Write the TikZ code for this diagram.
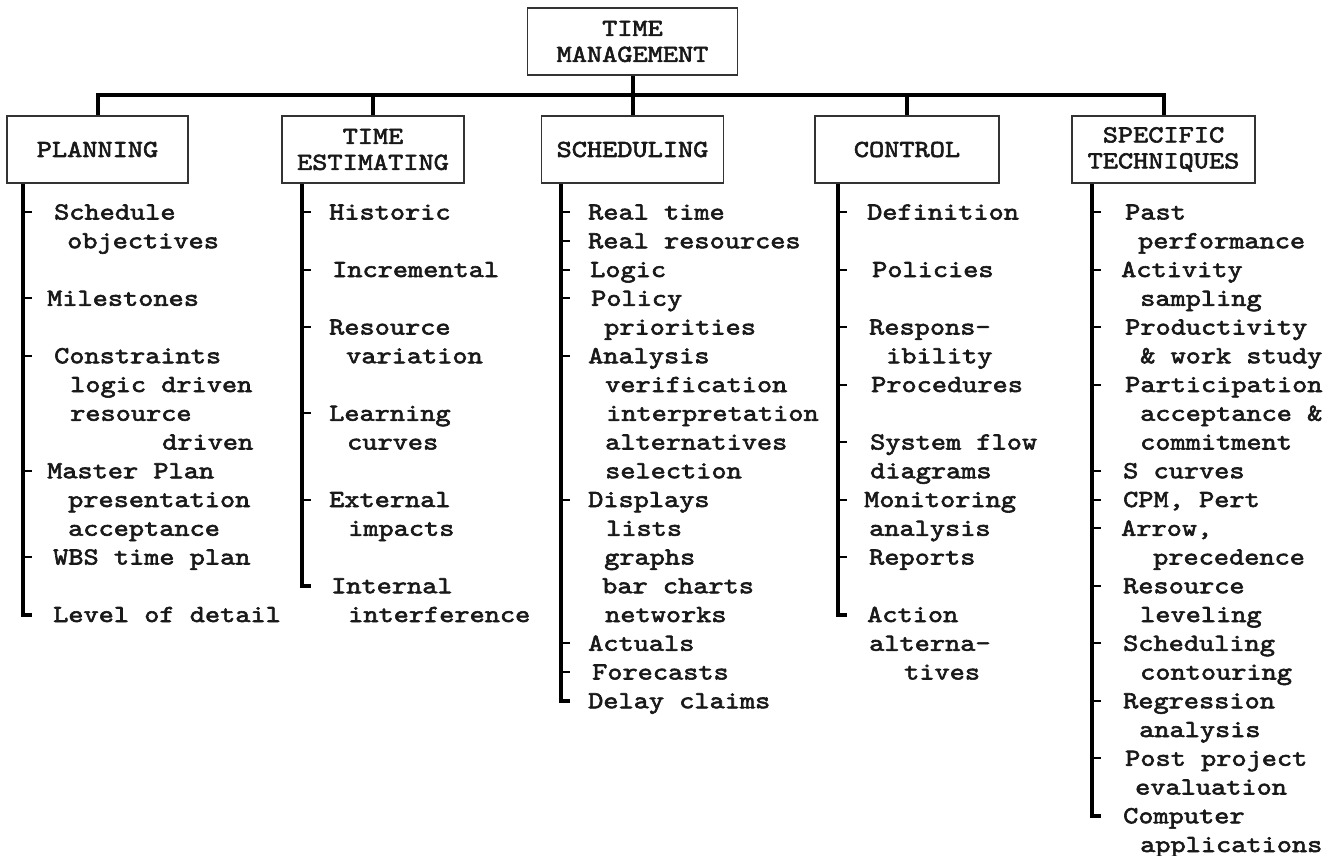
\documentclass[tikz,border=0pt]{standalone}
\usepackage{fontspec}
\newfontfamily\typewriter{lmmono10-regular.otf}[FakeStretch=1.18,FakeBold=2.4]
\usetikzlibrary{calc}

% one list entry: name, x, row, text
\newcommand\entry[4]{\node[item] (#1) at (#2,{219.5+28.75*(#3)}) {#4};}
% short tick from a spine at a given row
\newcommand\stub[2]{\draw[tick] (#1,{212+28.75*(#2)}) -- ++(9,0);}

\begin{document}
\begin{tikzpicture}[x=1pt,y=-1pt,
  every node/.style={font=\typewriter\fontsize{24.5}{26}\selectfont, text=black!90},
  headbox/.style={draw=black!80, line width=1.8pt, minimum height=67pt,
    align=center, inner sep=0pt, fill=white},
  item/.style={anchor=base west, inner sep=0pt},
  bar/.style={line width=4pt, black},
  spine/.style={line width=4pt, black},
  tick/.style={line width=2pt, black}]

\useasboundingbox (0,0) rectangle (1334,856);

% headings
\node[headbox, minimum width=210pt] (top) at (632.5,41.5) {TIME\\MANAGEMENT};
\node[headbox, minimum width=181pt] (pl) at (97.5,149.5) {PLANNING};
\node[headbox, minimum width=182pt] (te) at (373,149.5) {TIME\\ESTIMATING};
\node[headbox, minimum width=182pt] (sc) at (632.5,149.5) {SCHEDULING};
\node[headbox, minimum width=184pt] (co) at (907,149.5) {CONTROL};
\node[headbox, minimum width=183pt] (sp) at (1163.5,149.5) {SPECIFIC\\TECHNIQUES};

% tree connectors
\coordinate (bus) at (0,95);
\draw[bar] (top.south) -- (sc.north);
\draw[bar] (pl.north) |- (sp.north |- bus) -- (sp.north);
\draw[bar] (te.north) -- (te.north |- bus);
\draw[bar] (co.north) -- (co.north |- bus);

% spines
\coordinate (plEnd) at (23,{212+28.75*14});
\coordinate (teEnd) at (302,{212+28.75*13});
\coordinate (scEnd) at (561,{212+28.75*17});
\coordinate (coEnd) at (838,{212+28.75*14});
\coordinate (spEnd) at (1092,{212+28.75*21});
\draw[spine] (pl.south -| plEnd) -- (plEnd) -- ++(9,0);
\draw[spine] (te.south -| teEnd) -- (teEnd) -- ++(9,0);
\draw[spine] (sc.south -| scEnd) -- (scEnd) -- ++(9,0);
\draw[spine] (co.south -| coEnd) -- (coEnd) -- ++(9,0);
\draw[spine] (sp.south -| spEnd) -- (spEnd) -- ++(9,0);

% ticks
\foreach \r in {0,3,5,9,12} {\stub{23}{\r}}
\foreach \r in {0,2,4,7,10} {\stub{302}{\r}}
\foreach \r in {0,1,2,3,5,10,15,16} {\stub{561}{\r}}
\foreach \r in {0,2,4,6,8,10,12} {\stub{838}{\r}}
\foreach \r in {0,2,4,6,9,10,11,13,15,17,19} {\stub{1092}{\r}}

% planning
\entry{p0}{54}{0}{Schedule}
\entry{p1}{67}{1}{objectives}
\entry{p2}{47}{3}{Milestones}
\entry{p3}{54}{5}{Constraints}
\entry{p4}{70}{6}{logic driven}
\entry{p5}{70}{7}{resource}
\entry{p6}{162}{8}{driven}
\entry{p7}{47}{9}{Master Plan}
\entry{p8}{68}{10}{presentation}
\entry{p9}{68}{11}{acceptance}
\entry{p10}{53}{12}{WBS time plan}
\entry{p11}{53}{14}{Level of detail}

% time estimating
\entry{t0}{329}{0}{Historic}
\entry{t1}{332}{2}{Incremental}
\entry{t2}{329}{4}{Resource}
\entry{t3}{346}{5}{variation}
\entry{t4}{329}{7}{Learning}
\entry{t5}{347}{8}{curves}
\entry{t6}{329}{10}{External}
\entry{t7}{348}{11}{impacts}
\entry{t8}{331}{13}{Internal}
\entry{t9}{348}{14}{interference}

% scheduling
\entry{s0}{588}{0}{Real time}
\entry{s1}{588}{1}{Real resources}
\entry{s2}{590}{2}{Logic}
\entry{s3}{591}{3}{Policy}
\entry{s4}{604}{4}{priorities}
\entry{s5}{588}{5}{Analysis}
\entry{s6}{605}{6}{verification}
\entry{s7}{606}{7}{interpretation}
\entry{s8}{605}{8}{alternatives}
\entry{s9}{605}{9}{selection}
\entry{s10}{588}{10}{Displays}
\entry{s11}{606}{11}{lists}
\entry{s12}{604}{12}{graphs}
\entry{s13}{602}{13}{bar charts}
\entry{s14}{605}{14}{networks}
\entry{s15}{588}{15}{Actuals}
\entry{s16}{592}{16}{Forecasts}
\entry{s17}{588}{17}{Delay claims}

% control
\entry{c0}{867}{0}{Definition}
\entry{c1}{872}{2}{Policies}
\entry{c2}{869}{4}{Respons-}
\entry{c3}{886}{5}{ibility}
\entry{c4}{871}{6}{Procedures}
\entry{c5}{870}{8}{System flow}
\entry{c6}{870}{9}{diagrams}
\entry{c7}{864}{10}{Monitoring}
\entry{c8}{869}{11}{analysis}
\entry{c9}{869}{12}{Reports}
\entry{c10}{867}{14}{Action}
\entry{c11}{869}{15}{alterna-}
\entry{c12}{904}{16}{tives}

% specific techniques
\entry{x0}{1125}{0}{Past}
\entry{x1}{1138}{1}{performance}
\entry{x2}{1121}{2}{Activity}
\entry{x3}{1140}{3}{sampling}
\entry{x4}{1125}{4}{Productivity}
\entry{x5}{1140}{5}{\& work study}
\entry{x6}{1125}{6}{Participation}
\entry{x7}{1140}{7}{acceptance \&}
\entry{x8}{1140}{8}{commitment}
\entry{x9}{1123}{9}{S curves}
\entry{x10}{1123}{10}{CPM, Pert}
\entry{x11}{1121}{11}{Arrow,}
\entry{x12}{1153}{12}{precedence}
\entry{x13}{1123}{13}{Resource}
\entry{x14}{1140}{14}{leveling}
\entry{x15}{1123}{15}{Scheduling}
\entry{x16}{1140}{16}{contouring}
\entry{x17}{1123}{17}{Regression}
\entry{x18}{1139}{18}{analysis}
\entry{x19}{1125}{19}{Post project}
\entry{x20}{1135}{20}{evaluation}
\entry{x21}{1123}{21}{Computer}
\entry{x22}{1140}{22}{applications}

\end{tikzpicture}
\end{document}
